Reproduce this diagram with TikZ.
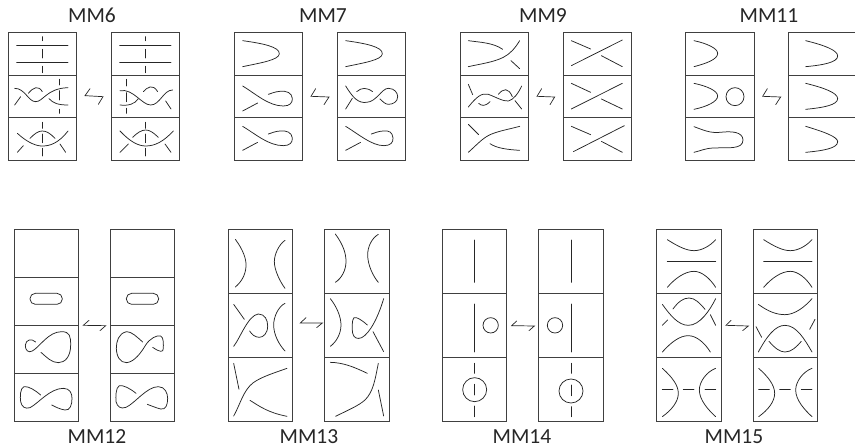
\documentclass[tikz,border=0pt]{standalone}
\usepackage{fontspec}
\setmainfont{Carlito}
\tikzset{
  frame/.style={draw=black!75,line width=0.9pt},
  strand/.style={draw=black!85,line width=0.75pt,line cap=round},
  hook/.style={draw=black!85,line width=0.7pt,line cap=round,line join=miter},
  titlelabel/.style={font=\fontsize{21.5}{24}\selectfont,text=black!85,inner sep=0pt,anchor=center},
  zoomed/.style={x=0.33333pt,y=-0.33333pt,shift={#1}}
}
\begin{document}
\begin{tikzpicture}[x=1pt,y=-1pt]
\useasboundingbox (0,0) rectangle (855,447);
\node[titlelabel] (t6) at (92,15.7) {MM6};
\node[titlelabel] (t7) at (323,15.7) {MM7};
\node[titlelabel] (t9) at (543,15.7) {MM9};
\node[titlelabel] (t11) at (769,15.7) {MM11};
\node[titlelabel] (t12) at (97,437) {MM12};
\node[titlelabel] (t13) at (309,437) {MM13};
\node[titlelabel] (t14) at (522,437) {MM14};
\node[titlelabel] (t15) at (734,437) {MM15};

% MM6
\begin{scope}[x=0.33333pt,y=-0.33333pt]
\draw[frame] (25,97) rectangle (229,482) (25,225)--(229,225) (25,353)--(229,353);
\draw[frame] (334,97) rectangle (538,482) (334,225)--(538,225) (334,353)--(538,353);
\draw[hook] (270,266)--(255,287)--(309,290)--(295,313);
\foreach \d in {0,309}{
\draw[strand] (50+\d,135)--(204+\d,135) (50+\d,186)--(204+\d,186)
 (127+\d,110)--(127+\d,122) (127+\d,148)--(127+\d,174) (127+\d,199)--(127+\d,218);
}
\draw[strand] (44,265) .. controls (75,265) and (85,305) .. (107,305) .. controls (130,305) and (140,265) .. (204,263);
\draw[strand] (44,315)--(62,290);
\draw[strand] (85,280) .. controls (100,262) and (115,255) .. (127,275);
\draw[strand] (147,296) .. controls (160,310) and (175,315) .. (204,315);
\draw[strand] (178,238)--(178,255) (178,272)--(178,300) (178,328)--(178,340);
\draw[strand] (52,400) .. controls (85,430) and (110,438) .. (127,438) .. controls (150,438) and (175,430) .. (204,393);
\draw[strand] (90,415) .. controls (105,400) and (115,393) .. (127,393) .. controls (140,393) and (150,400) .. (165,415);
\draw[strand] (52,457)--(70,437) (180,432)--(197,457);
\draw[strand] (127,367)--(127,385) (127,402)--(127,428) (127,445)--(127,468);
\draw[strand] (360,272) .. controls (400,265) and (425,315) .. (452,315) .. controls (480,315) and (490,270) .. (518,270);
\draw[strand] (430,275) .. controls (442,262) and (458,250) .. (473,275);
\draw[strand] (497,303)--(513,327);
\draw[strand] (360,315) .. controls (385,318) and (405,312) .. (415,296);
\draw[strand] (378,238)--(378,258) (378,278)--(378,305) (378,325)--(378,340);
\draw[strand] (360,393) .. controls (390,425) and (415,438) .. (437,438) .. controls (465,438) and (490,425) .. (520,393);
\draw[strand] (398,412) .. controls (412,398) and (425,390) .. (437,390) .. controls (450,390) and (460,398) .. (475,412);
\draw[strand] (360,457)--(385,432) (495,432)--(513,457);
\draw[strand] (436,367)--(436,385) (436,402)--(436,428) (436,445)--(436,468);
\end{scope}

% MM7
\begin{scope}[xshift=225pt,x=0.33333pt,y=-0.33333pt]
\draw[frame] (27,97) rectangle (232,482) (27,225)--(232,225) (27,353)--(232,353);
\draw[frame] (336,97) rectangle (541,482) (336,225)--(541,225) (336,353)--(541,353);
\draw[hook] (272,266)--(258,289)--(312,291)--(297,314);
\foreach \d in {0,309}{
\draw[strand] (53+\d,122) .. controls (110+\d,130) and (165+\d,140) .. (163+\d,162) .. controls (160+\d,180) and (110+\d,188) .. (53+\d,200);
\draw[strand] (53+\d,379) .. controls (90+\d,401) and (130+\d,437) .. (175+\d-\d/44,437) .. controls (195+\d-\d/44,437) and (203+\d-\d/44,427) .. (202+\d-\d/44,414) .. controls (200+\d-\d/44,397) and (185+\d,391) .. (165+\d,393) .. controls (150+\d,394) and (140+\d,399) .. (130+\d,402);
\draw[strand] (53+\d,451)--(98+\d,427);
}
\draw[strand] (53,258) .. controls (90,280) and (130,318) .. (175,318) .. controls (195,318) and (203,308) .. (202,295) .. controls (200,278) and (185,272) .. (165,274) .. controls (150,275) and (140,280) .. (130,283);
\draw[strand] (53,333)--(98,309);
\draw[strand] (362,258) .. controls (385,295) and (400,310) .. (425,307) .. controls (455,305) and (470,265) .. (490,265) .. controls (510,265) and (518,280) .. (518,290) .. controls (518,305) and (505,313) .. (490,313) .. controls (480,313) and (472,303) .. (465,297);
\draw[strand] (395,275) .. controls (410,262) and (425,262) .. (443,275);
\draw[strand] (362,327)--(382,295);
\end{scope}

% MM9
\begin{scope}[xshift=450pt,x=0.33333pt,y=-0.33333pt]
\draw[frame] (30,97) rectangle (235,482) (30,225)--(235,225) (30,353)--(235,353);
\draw[frame] (339,97) rectangle (544,482) (339,225)--(544,225) (339,353)--(544,353);
\draw[hook] (275,266)--(261,289)--(314,291)--(300,314);
\draw[strand] (55,122) .. controls (90,127) and (130,128) .. (158,148);
\draw[strand] (55,200) .. controls (90,192) and (130,187) .. (160,172) .. controls (180,162) and (195,145) .. (209,122);
\draw[strand] (183,182)--(209,206);
\draw[strand] (55,321) .. controls (80,290) and (95,278) .. (115,283) .. controls (135,290) and (160,305) .. (175,303) .. controls (190,300) and (205,280) .. (215,258);
\draw[strand] (55,253)--(68,284) (195,302)--(215,327);
\draw[strand] (86,310) .. controls (95,318) and (105,320) .. (120,305);
\draw[strand] (145,283) .. controls (160,265) and (175,262) .. (187,290);
\draw[strand] (55,457) .. controls (85,430) and (100,412) .. (125,402) .. controls (150,392) and (180,387) .. (209,379);
\draw[strand] (55,373)--(86,404);
\draw[strand] (120,431) .. controls (140,445) and (175,449) .. (209,451);
\draw[strand] (364,122)--(422,147) (364,197)--(517,120) (454,167)--(517,200);
\draw[strand] (364,250)--(422,277) (364,327)--(517,250) (454,297)--(517,327);
\draw[strand] (364,379)--(422,404) (370,455)--(523,377) (454,424)--(517,457);
\end{scope}

% MM11
\begin{scope}[xshift=670pt,x=0.33333pt,y=-0.33333pt]
\draw[frame] (47,97) rectangle (252,482) (47,225)--(252,225) (47,353)--(252,353);
\draw[frame] (555,97)--(356,97)--(356,482)--(555,482) (356,225)--(555,225) (356,353)--(555,353);
\draw[hook] (292,266)--(278,289)--(332,291)--(317,314);
\draw[strand] (72,122) .. controls (110,130) and (143,145) .. (143,160) .. controls (143,178) and (110,190) .. (72,200);
\draw[strand] (72,250) .. controls (110,258) and (143,272) .. (143,288) .. controls (143,305) and (110,320) .. (72,328);
\draw[strand] (195,290) circle[radius=27];
\draw[strand] (72,380) .. controls (100,390) and (120,400) .. (150,397) .. controls (185,393) and (218,395) .. (219,420) .. controls (219,450) and (170,442) .. (130,444) .. controls (105,445) and (90,453) .. (72,457);
\draw[strand] (407,122) .. controls (460,135) and (503,150) .. (503,168) .. controls (503,187) and (460,195) .. (407,200);
\draw[strand] (407,250) .. controls (460,263) and (503,278) .. (503,296) .. controls (503,315) and (460,323) .. (407,328);
\draw[strand] (407,379) .. controls (460,395) and (503,410) .. (503,425) .. controls (503,445) and (460,452) .. (407,457);
\end{scope}

% MM12
\begin{scope}[yshift=-220pt,x=0.33333pt,y=-0.33333pt]
\draw[frame] (42,27) rectangle (235,605) (42,172)--(235,172) (42,316)--(235,316) (42,461)--(235,461);
\draw[frame] (332,27) rectangle (524,605) (332,172)--(524,172) (332,316)--(524,316) (332,461)--(524,461);
\draw[hook] (267,301)--(250,316)--(317,317)--(300,332);
\draw[strand,rounded corners=5.3pt] (90,220) rectangle (187,253);
\draw[strand,rounded corners=5.3pt] (379,220) rectangle (476,253);
\draw[strand] (107,366) .. controls (95,355) and (78,358) .. (76,375) .. controls (75,390) and (85,400) .. (97,393) .. controls (120,380) and (145,335) .. (185,335) .. controls (210,335) and (212,350) .. (212,375) .. controls (212,410) and (195,428) .. (175,428) .. controls (155,428) and (140,412) .. (123,397);
\draw[strand] (428,366) .. controls (410,350) and (395,335) .. (380,335) .. controls (355,340) and (349,365) .. (349,385) .. controls (350,410) and (360,428) .. (380,428) .. controls (405,425) and (425,395) .. (437,375) .. controls (450,355) and (470,345) .. (482,348) .. controls (492,352) and (490,375) .. (490,385) .. controls (490,398) and (480,397) .. (458,382);
\draw[strand] (122,525) .. controls (105,510) and (85,498) .. (72,500) .. controls (60,505) and (60,530) .. (62,545) .. controls (65,560) and (75,568) .. (90,563) .. controls (115,550) and (150,505) .. (190,505) .. controls (210,505) and (216,520) .. (216,535) .. controls (216,555) and (210,572) .. (195,570) .. controls (180,568) and (165,560) .. (155,555);
\draw[strand] (408,520) .. controls (390,505) and (370,495) .. (358,497) .. controls (347,503) and (347,530) .. (348,545) .. controls (352,560) and (362,568) .. (378,562) .. controls (405,550) and (440,500) .. (475,500) .. controls (495,500) and (503,520) .. (503,535) .. controls (503,555) and (497,570) .. (482,567) .. controls (470,564) and (455,558) .. (442,553);
\end{scope}

% MM13
\begin{scope}[xshift=220pt,yshift=-220pt,x=0.33333pt,y=-0.33333pt]
\draw[frame] (25,27) rectangle (217,605) (25,219)--(217,219) (25,412)--(217,412);
\draw[frame] (314,27) rectangle (507,605) (314,219)--(507,219) (314,412)--(507,412);
\draw[hook] (258,293)--(241,309)--(307,309)--(290,323);
\draw[strand] (46,58) .. controls (70,90) and (80,120) .. (78,140) .. controls (76,165) and (65,185) .. (46,201);
\draw[strand] (195,61) .. controls (175,75) and (163,105) .. (163,125) .. controls (163,150) and (180,185) .. (195,205);
\draw[strand] (346,42) .. controls (370,75) and (378,100) .. (378,125) .. controls (378,150) and (365,175) .. (346,187);
\draw[strand] (475,43) .. controls (455,55) and (443,80) .. (443,105) .. controls (443,135) and (460,170) .. (475,187);
\draw[strand] (41,253)--(73,298);
\draw[strand] (41,379) .. controls (60,355) and (85,285) .. (115,282) .. controls (135,282) and (143,300) .. (143,318) .. controls (143,340) and (130,352) .. (118,352) .. controls (105,352) and (95,343) .. (89,333);
\draw[strand] (195,250) .. controls (175,260) and (161,290) .. (161,315) .. controls (161,345) and (178,375) .. (195,393);
\draw[strand] (331,236) .. controls (350,260) and (363,290) .. (363,315) .. controls (363,340) and (350,365) .. (331,379);
\draw[strand] (442,315) .. controls (425,300) and (410,290) .. (402,293) .. controls (395,298) and (396,330) .. (398,340) .. controls (402,355) and (412,358) .. (425,353) .. controls (450,340) and (475,290) .. (491,236);
\draw[strand] (459,335)--(491,395);
\draw[strand] (41,430)--(57,508);
\draw[strand] (41,588) .. controls (60,555) and (70,510) .. (100,488) .. controls (125,470) and (165,458) .. (201,445);
\draw[strand] (90,541) .. controls (120,560) and (145,578) .. (201,589);
\draw[strand] (331,427) .. controls (370,428) and (400,440) .. (442,460);
\draw[strand] (475,430) .. controls (465,480) and (460,515) .. (435,540) .. controls (415,558) and (380,572) .. (347,589);
\draw[strand] (475,510)--(491,588);
\end{scope}

% MM14
\begin{scope}[xshift=435pt,yshift=-220pt,x=0.33333pt,y=-0.33333pt]
\draw[frame] (22,27) rectangle (215,605) (22,219)--(215,219) (22,412)--(215,412);
\draw[frame] (311,27) rectangle (505,605) (311,219)--(505,219) (311,412)--(505,412);
\draw[hook] (245,303)--(230,317)--(298,318)--(282,332);
\draw[strand] (119,60)--(119,187) (119,252)--(119,396);
\draw[strand] (167,316) circle[radius=23];
\draw[strand] (119,430)--(119,460) (119,493)--(119,525) (119,558)--(119,590);
\draw[strand] (119,509) circle[radius=36];
\draw[strand] (408,60)--(408,187) (408,252)--(408,396);
\draw[strand] (360,316) circle[radius=23];
\draw[strand] (408,430)--(408,460) (408,495)--(408,527) (408,560)--(408,590);
\draw[strand] (408,513) circle[radius=36];
\end{scope}

% MM15
\begin{scope}[xshift=645pt,yshift=-220pt,x=0.33333pt,y=-0.33333pt]
\draw[frame] (35,27) rectangle (228,605) (35,219)--(228,219) (35,412)--(228,412);
\draw[frame] (324,27) rectangle (518,605) (324,219)--(518,219) (324,412)--(518,412);
\draw[hook] (258,301)--(243,316)--(310,318)--(293,332);
\foreach \d in {0,289}{
\draw[strand] (67+\d,59) .. controls (100+\d,80) and (125+\d,92) .. (147+\d,92) .. controls (170+\d,92) and (195+\d,78) .. (212+\d,59);
\draw[strand] (67+\d,123)--(212+\d,123);
\draw[strand] (67+\d,202) .. controls (90+\d,175) and (120+\d,154) .. (147+\d,154) .. controls (170+\d,154) and (195+\d,175) .. (212+\d,202);
\draw[strand] (52+\d,445) .. controls (80+\d,470) and (100+\d,495) .. (100+\d,520) .. controls (100+\d,545) and (80+\d,570) .. (52+\d,590);
\draw[strand] (212+\d,445) .. controls (185+\d,455) and (163+\d,485) .. (163+\d,510) .. controls (163+\d,540) and (190+\d,570) .. (212+\d,590);
\draw[strand] (52+\d,508)--(84+\d,508) (115+\d,508)--(147+\d,508) (180+\d,508)--(212+\d,508);
}
\draw[strand] (52,253) .. controls (75,285) and (100,316) .. (130,316) .. controls (165,316) and (195,270) .. (212,236);
\draw[strand] (84,267) .. controls (100,245) and (115,234) .. (132,234) .. controls (150,234) and (165,250) .. (180,268);
\draw[strand] (52,316)--(68,300) (196,284)--(212,316);
\draw[strand] (52,396) .. controls (80,365) and (105,347) .. (130,347) .. controls (155,347) and (180,370) .. (196,396);
\draw[strand] (340,253) .. controls (370,275) and (395,284) .. (420,284) .. controls (450,284) and (480,260) .. (501,236);
\draw[strand] (340,396) .. controls (365,350) and (390,316) .. (420,316) .. controls (455,316) and (480,360) .. (501,396);
\draw[strand] (372,364) .. controls (390,385) and (405,396) .. (420,396) .. controls (440,396) and (455,380) .. (469,364);
\draw[strand] (333,320)--(350,352) (494,328)--(510,298);
\end{scope}
\end{tikzpicture}
\end{document}
